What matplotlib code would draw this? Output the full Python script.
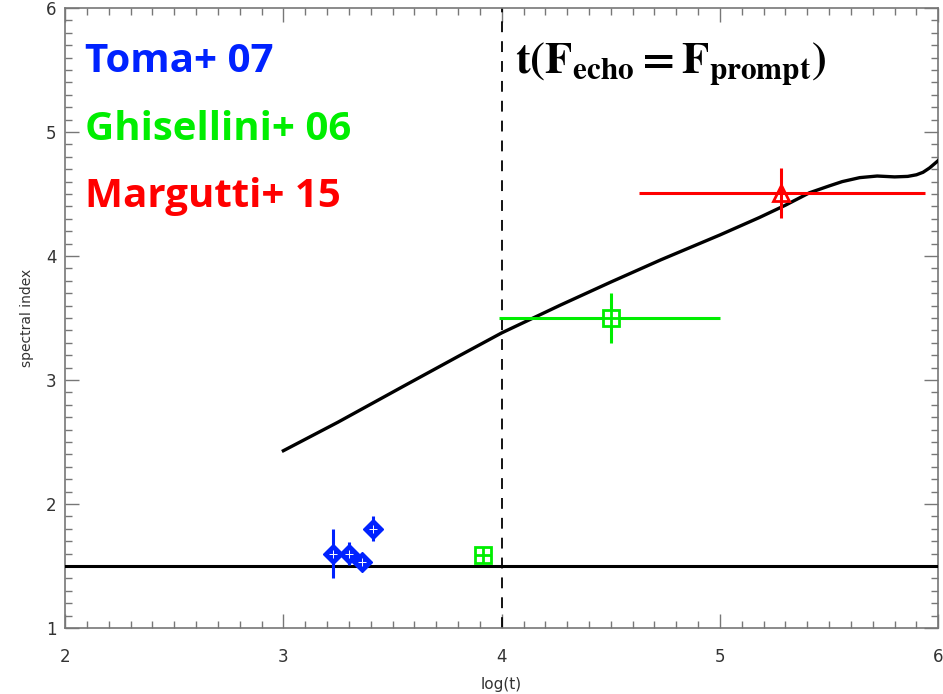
import numpy as np
import matplotlib.pyplot as plt
from matplotlib.ticker import MultipleLocator

plt.rcParams['mathtext.fontset'] = 'stix'

# Spectral index vs log(t): model curve and observations
curve_logt = [3.0, 3.25, 3.55, 3.8, 4.0, 4.27, 4.5, 4.73, 5.0, 5.18, 5.3, 5.41,
              5.5, 5.56, 5.64, 5.72, 5.8, 5.86, 5.9, 5.93, 5.96, 6.0]
curve_index = [2.43, 2.66, 2.95, 3.19, 3.38, 3.605, 3.79, 3.97, 4.17, 4.31, 4.41, 4.51,
               4.565, 4.60, 4.632, 4.645, 4.638, 4.642, 4.655, 4.675, 4.71, 4.77]

toma_t = [3.228, 3.30, 3.36, 3.41]
toma_idx = [1.60, 1.60, 1.53, 1.80]
toma_err = [0.20, 0.09, 0.03, 0.10]

ghis_t = [3.915, 4.50]
ghis_idx = [1.59, 3.50]
ghis_terr_lo = [0.0, 0.51]
ghis_terr_hi = [0.0, 0.50]
ghis_err = [0.0, 0.20]

marg_t = [5.28]
marg_idx = [4.51]
marg_terr_lo = [0.65]
marg_terr_hi = [0.66]
marg_err = [0.20]

flat_index = 1.5
t_equal = 4.0

blue = '#0022ff'
green = '#00ee00'
red = '#ff0000'
grey = '#777777'

fig = plt.figure(figsize=(9.43, 6.94), dpi=100)
ax = fig.add_axes([0.069, 0.095, 0.926, 0.8935])

ax.plot(curve_logt, curve_index, color='black', lw=2.4, zorder=3)
ax.axhline(flat_index, color='black', lw=2.2, zorder=3)
ax.axvline(t_equal, color='black', lw=1.3, ls=(0, (6, 5)), zorder=2)

# Toma+ 07
ax.errorbar(toma_t, toma_idx, yerr=toma_err, fmt='D', color=blue, ms=10, elinewidth=2.2,
            capsize=0, zorder=5)
ax.plot(toma_t, toma_idx, '+', color='white', ms=6, mew=0.7, ls='none', zorder=6)

# Ghisellini+ 06
ax.errorbar(ghis_t, ghis_idx, xerr=[ghis_terr_lo, ghis_terr_hi], yerr=ghis_err, fmt='none',
            ecolor=green, elinewidth=2.2, capsize=0, zorder=4)
ax.plot(ghis_t, ghis_idx, 's', mfc='white', mec=green, mew=2, ms=11, ls='none', zorder=5)
ax.plot(ghis_t, ghis_idx, '+', color=green, ms=11, mew=2, ls='none', zorder=6)

# Margutti+ 15
ax.errorbar(marg_t, marg_idx, xerr=[marg_terr_lo, marg_terr_hi], yerr=marg_err, fmt='none',
            ecolor=red, elinewidth=2.2, capsize=0, zorder=4)
ax.plot(marg_t, marg_idx, '^', mfc='none', mec=red, mew=2, ms=12, ls='none', zorder=5)

ax.set_xlim(2, 6)
ax.set_ylim(1, 6)
ax.xaxis.set_major_locator(MultipleLocator(1))
ax.xaxis.set_minor_locator(MultipleLocator(0.1))
ax.yaxis.set_major_locator(MultipleLocator(1))
ax.yaxis.set_minor_locator(MultipleLocator(0.1))
ax.tick_params(which='both', direction='in', top=True, right=True, colors=grey,
               labelcolor='#333333', labelsize=12, width=1)
ax.tick_params(which='major', length=10)
ax.tick_params(which='minor', length=5)
ax.tick_params(axis='x', which='major', pad=14)
ax.tick_params(axis='y', which='major', pad=6)
for s in ax.spines.values():
    s.set_color(grey)
    s.set_linewidth(1.2)

ax.set_xlabel('log(t)', fontsize=11, color='#333333', labelpad=8)
ax.set_ylabel('spectral index', fontsize=10, color='#333333', labelpad=9)

# labels for each data set
for txt, col, y in [('Toma+ 07', blue, 5.57), ('Ghisellini+ 06', green, 5.02),
                    ('Margutti+ 15', red, 4.48)]:
    ax.text(2.09, y, txt, color=col, fontsize=29, fontweight='bold',
            family='Open Sans', va='center', ha='left')

ax.text(4.06, 5.55, r'$\mathbf{t(F_{echo}=F_{prompt})}$', fontsize=32,
        color='black', va='center', ha='left')

fig.savefig('out.png', dpi=100)
